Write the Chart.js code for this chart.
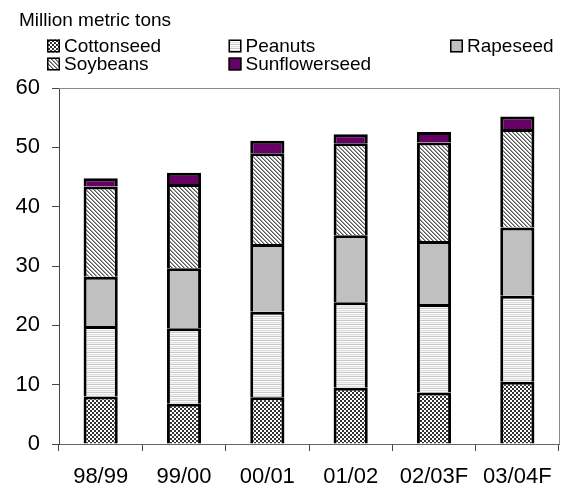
<!DOCTYPE html>
<html><head><meta charset="utf-8">
<script src="https://cdn.jsdelivr.net/npm/chart.js@4"></script>
<style>html,body{margin:0;padding:0;background:#fff}</style>
</head><body>
<canvas id="c" width="574" height="492"></canvas>
<script>
const categories = ['98/99','99/00','00/01','01/02','02/03F','03/04F'];
const cottonseed = [8.0, 6.8, 7.9, 9.5, 8.7, 10.5];
const peanuts = [11.9, 12.7, 14.4, 14.4, 14.9, 14.5];
const rapeseed = [8.3, 10.1, 11.4, 11.3, 10.6, 11.5];
const soybeans = [15.2, 14.2, 15.3, 15.5, 16.6, 16.6];
const sunflowerseed = [1.4, 1.9, 2.1, 1.5, 1.8, 2.1];
const seriesNames = ['Cottonseed','Peanuts','Rapeseed','Soybeans','Sunflowerseed'];
const yMin = 0, yMax = 60, yStep = 10;
const titleText = 'Million metric tons';

function makePattern(w, h, fn) {
  const c = document.createElement('canvas');
  c.width = w; c.height = h;
  const x = c.getContext('2d');
  for (let i = 0; i < w; i++) for (let j = 0; j < h; j++) {
    x.fillStyle = fn(i, j); x.fillRect(i, j, 1, 1);
  }
  return x.createPattern(c, 'repeat');
}
const pCotton = makePattern(4, 4, (i, j) => ((Math.floor(i/2) + Math.floor(j/2)) % 2 === 0) ? '#333333' : '#ffffff');
const pPeanut = makePattern(1, 4, (i, j) => ['#c8c8c8', '#ffffff', '#dedede', '#f6f6f6'][j]);
const pRape = '#c0c0c0';
const pSoy = makePattern(4, 4, (i, j) => {
  const d = ((i - j) % 4 + 4) % 4;
  if (d === 0) return '#5a5a5a';
  if (d === 1) return '#a0a0a0';
  return '#ffffff';
});
const pSun = '#660066';
const fills = [pCotton, pPeanut, pRape, pSoy, pSun];
const seriesData = [cottonseed, peanuts, rapeseed, soybeans, sunflowerseed];

const FONT = '"Liberation Sans", Arial, sans-serif';

const decorPlugin = {
  id: 'decor',
  afterDraw(chart) {
    const ctx = chart.ctx, a = chart.chartArea;
    ctx.save();
    ctx.strokeStyle = '#8a8a8a'; ctx.lineWidth = 1;
    ctx.beginPath();
    ctx.moveTo(a.left, a.top + 0.5); ctx.lineTo(a.right + 0.5, a.top + 0.5);
    ctx.lineTo(a.right + 0.5, a.bottom);
    ctx.stroke();
    ctx.fillStyle = '#000';
    ctx.font = '19px ' + FONT;
    ctx.textBaseline = 'alphabetic';
    ctx.textAlign = 'left';
    ctx.fillText(titleText, 19, 26);
    const pos = [[47, 39.5], [228.5, 39.5], [450, 39.5], [47, 57.5], [228.5, 57.5]];
    ctx.font = '19px ' + FONT;
    ctx.textBaseline = 'middle';
    seriesNames.forEach((n, k) => {
      const [x, y] = pos[k];
      ctx.fillStyle = fills[k];
      ctx.fillRect(x, y, 13, 13);
      ctx.strokeStyle = '#000'; ctx.lineWidth = 1.5;
      ctx.strokeRect(x + 0.75, y + 0.75, 11.5, 11.5);
      ctx.fillStyle = '#000';
      ctx.fillText(n, x + 17, y + 7.5);
    });
    ctx.restore();
  }
};

new Chart(document.getElementById('c'), {
  type: 'bar',
  data: {
    labels: categories,
    datasets: seriesNames.map((n, k) => ({
      label: n,
      data: seriesData[k],
      backgroundColor: fills[k],
      borderColor: '#000',
      borderWidth: 3,
      borderSkipped: 'start',
      inflateAmount: 0,
      barPercentage: 0.41,
      categoryPercentage: 1
    }))
  },
  options: {
    responsive: false,
    devicePixelRatio: 1,
    animation: false,
    layout: { padding: { top: 88, right: 15, left: 0, bottom: 0 } },
    plugins: { legend: { display: false }, title: { display: false }, tooltip: { enabled: false } },
    scales: {
      x: {
        stacked: true,
        afterFit(s) { s.height = 48; },
        grid: { offset: true, drawOnChartArea: false, tickLength: 7, tickColor: '#444', lineWidth: 1 },
        border: { color: '#666', width: 1 },
        ticks: { color: '#000', font: { family: FONT, size: 22 }, padding: 13, maxRotation: 0, autoSkip: false }
      },
      y: {
        stacked: true,
        min: yMin, max: yMax,
        afterFit(s) { s.width = 59; },
        grid: { color: 'transparent', tickColor: '#444', tickLength: 7, drawOnChartArea: true },
        border: { color: '#444', width: 1 },
        ticks: { stepSize: yStep, color: '#000', font: { family: FONT, size: 22 }, padding: 12 }
      }
    }
  },
  plugins: [decorPlugin]
});
</script>
</body></html>
